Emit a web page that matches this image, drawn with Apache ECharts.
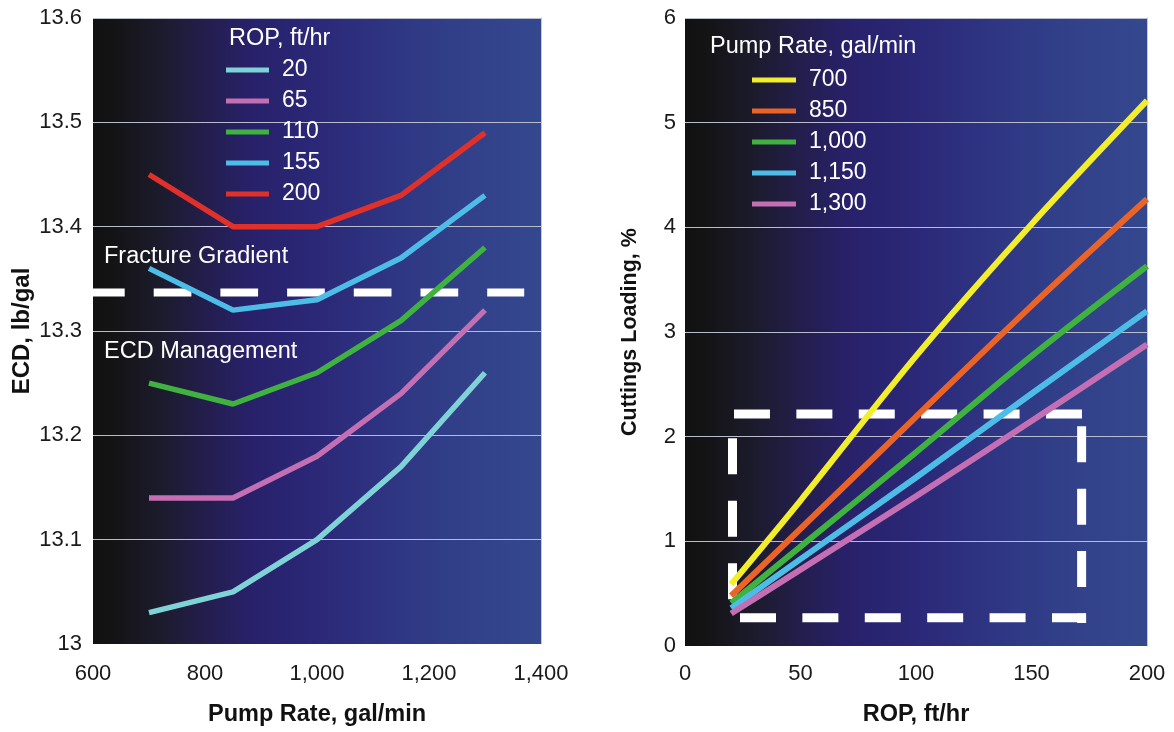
<!DOCTYPE html>
<html>
<head>
<meta charset="utf-8">
<script src="https://cdn.jsdelivr.net/npm/echarts@6/dist/echarts.min.js"></script>
<style>
  html, body { margin: 0; padding: 0; background: #fff; }
  #chart { width: 1174px; height: 732px; }
</style>
</head>
<body>
<div id="chart"></div>
<script>
// left panel: ECD vs pump rate, one line per ROP
var pumpRates = [700, 850, 1000, 1150, 1300];
var ropNames = ['20', '65', '110', '155', '200'];
var ecdRop20 = [13.03, 13.05, 13.10, 13.17, 13.26];
var ecdRop65 = [13.14, 13.14, 13.18, 13.24, 13.32];
var ecdRop110 = [13.25, 13.23, 13.26, 13.31, 13.38];
var ecdRop155 = [13.36, 13.32, 13.33, 13.37, 13.43];
var ecdRop200 = [13.45, 13.40, 13.40, 13.43, 13.49];
var fractureGradient = 13.337;
var fractureSpan = [600, 1370];

// right panel: cuttings loading vs ROP, one line per pump rate
var ropPoints = [20, 50, 100, 150, 200];
var rateNames = ['700', '850', '1,000', '1,150', '1,300'];
var load700 = [0.59, 1.39, 2.77, 4.03, 5.21];
var load850 = [0.48, 1.12, 2.19, 3.25, 4.27];
var load1000 = [0.41, 0.95, 1.85, 2.77, 3.63];
var load1150 = [0.36, 0.83, 1.61, 2.41, 3.20];
var load1300 = [0.31, 0.73, 1.43, 2.15, 2.88];

// dashed window on the right panel (ROP, %)
var boxTop = [[21.2, 2.216], [171.9, 2.216]];
var boxRight = [[171.7, 2.099], [171.7, 0.219]];
var boxBottom = [[23.8, 0.27], [173.6, 0.27]];
var boxLeft = [[20.56, 1.984], [20.56, 0.353]];

var ropColors = ['#7fd3d6', '#c46fb3', '#3fb23f', '#4dbde8', '#e0302a'];
var rateColors = ['#f2ee2e', '#ea6428', '#3fb23f', '#4dbde8', '#c46fb3'];

var myChart = echarts.init(document.getElementById('chart'));

var bgGrad = function () {
  return new echarts.graphic.LinearGradient(0, 0, 1, 0, [
    { offset: 0, color: '#111112' },
    { offset: 0.05, color: '#141416' },
    { offset: 0.15, color: '#1c1b2c' },
    { offset: 0.25, color: '#231e4c' },
    { offset: 0.35, color: '#28216a' },
    { offset: 0.5, color: '#2b2878' },
    { offset: 0.7, color: '#2f3884' },
    { offset: 0.85, color: '#32418a' },
    { offset: 1, color: '#34488e' }
  ]);
};

var zip = function (xs, ys) {
  return xs.map(function (x, i) { return [x, ys[i]]; });
};

var fmtComma = function (v) { return v.toLocaleString('en-US'); };

var axisText = { color: '#1a1a1a', fontSize: 22 };
var nameText = function (size) { return { color: '#111', fontSize: size, fontWeight: 'bold' }; };
var gridLine = { show: true, showMinLine: false, lineStyle: { color: '#b8bccc', width: 1 } };

var series = [];

// fracture gradient dashes
series.push({
  name: 'fracture', type: 'line', xAxisIndex: 0, yAxisIndex: 0,
  data: [[fractureSpan[0], fractureGradient], [fractureSpan[1], fractureGradient]],
  symbol: 'none', silent: true, z: 1,
  lineStyle: { color: '#fff', width: 8, type: [37.7, 29], dashOffset: 6, cap: 'butt' }
});

[ecdRop20, ecdRop65, ecdRop110, ecdRop155, ecdRop200].forEach(function (vals, i) {
  series.push({
    name: ropNames[i], type: 'line', xAxisIndex: 0, yAxisIndex: 0,
    data: zip(pumpRates, vals), symbol: 'none', color: ropColors[i], z: 3,
    lineStyle: { width: 5.5, color: ropColors[i] }
  });
});

[boxTop, boxRight, boxBottom, boxLeft].forEach(function (seg, i) {
  series.push({
    name: 'box' + i, type: 'line', xAxisIndex: 1, yAxisIndex: 2,
    data: seg, symbol: 'none', silent: true, z: 1,
    lineStyle: { color: '#fff', width: 9, type: [36, 26.4], cap: 'butt' }
  });
});

[load700, load850, load1000, load1150, load1300].forEach(function (vals, i) {
  series.push({
    name: rateNames[i], type: 'line', xAxisIndex: 1, yAxisIndex: 2,
    data: zip(ropPoints, vals), symbol: 'none', smooth: 0.3, color: rateColors[i], z: 3,
    lineStyle: { width: 6, color: rateColors[i] }
  });
});

var whiteText = { color: '#fff', fontSize: 23.5, fontWeight: 'normal' };
var legendText = { color: '#fff', fontSize: 23, lineHeight: 24, padding: [0, 0, 0, 8] };

var option = {
  animation: false,
  backgroundColor: '#fff',
  textStyle: { fontFamily: 'Liberation Sans, Arial, Helvetica, sans-serif' },
  title: [
    { text: 'ROP, ft/hr', left: 229, top: 27, padding: 0, textStyle: whiteText },
    { text: 'Pump Rate, gal/min', left: 710, top: 35, padding: 0, textStyle: whiteText },
    { text: 'Fracture Gradient', left: 104, top: 245, padding: 0, textStyle: whiteText },
    { text: 'ECD Management', left: 104, top: 340, padding: 0, textStyle: whiteText }
  ],
  legend: [
    {
      data: ropNames, orient: 'vertical', left: 226, top: 58, padding: 0,
      icon: 'rect', itemWidth: 43, itemHeight: 5, itemGap: 7, selectedMode: false,
      textStyle: legendText
    },
    {
      data: rateNames, orient: 'vertical', left: 752, top: 68, padding: 0,
      icon: 'rect', itemWidth: 44, itemHeight: 5, itemGap: 7, selectedMode: false,
      textStyle: legendText
    }
  ],
  grid: [
    { left: 93, top: 18, width: 448, height: 627, show: true, borderWidth: 0, backgroundColor: bgGrad() },
    { left: 685, top: 18, width: 462, height: 629, show: true, borderWidth: 0, backgroundColor: bgGrad() }
  ],
  xAxis: [
    {
      gridIndex: 0, type: 'value', min: 600, max: 1400, interval: 200,
      name: 'Pump Rate, gal/min', nameLocation: 'middle', nameGap: 59, nameTextStyle: nameText(23.5),
      axisLine: { show: false }, axisTick: { show: false }, splitLine: { show: false },
      axisLabel: Object.assign({ margin: 19, formatter: fmtComma }, axisText)
    },
    {
      gridIndex: 1, type: 'value', min: 0, max: 200, interval: 50,
      name: 'ROP, ft/hr', nameLocation: 'middle', nameGap: 57, nameTextStyle: nameText(23.5),
      axisLine: { show: false }, axisTick: { show: false }, splitLine: { show: false },
      axisLabel: Object.assign({ margin: 17 }, axisText)
    }
  ],
  yAxis: [
    {
      gridIndex: 0, type: 'value', min: 13, max: 13.6, interval: 0.1,
      name: 'ECD, lb/gal', nameLocation: 'middle', nameGap: 59, nameTextStyle: nameText(24),
      axisLine: { show: false }, axisTick: { show: false }, splitLine: gridLine,
      axisLabel: Object.assign({ margin: 11 }, axisText)
    },
    {
      gridIndex: 0, type: 'value', min: 13, max: 13.6, position: 'right',
      axisLine: { show: true, lineStyle: { color: '#c0c6dc', width: 1 } },
      axisTick: { show: false }, axisLabel: { show: false }, splitLine: { show: false }
    },
    {
      gridIndex: 1, type: 'value', min: 0, max: 6, interval: 1,
      name: 'Cuttings Loading, %', nameLocation: 'middle', nameGap: 44, nameTextStyle: nameText(21.5),
      axisLine: { show: false }, axisTick: { show: false }, splitLine: gridLine,
      axisLabel: Object.assign({ margin: 9 }, axisText)
    },
    {
      gridIndex: 1, type: 'value', min: 0, max: 6, position: 'right',
      axisLine: { show: true, lineStyle: { color: '#c0c6dc', width: 1 } },
      axisTick: { show: false }, axisLabel: { show: false }, splitLine: { show: false }
    }
  ],
  series: series
};

myChart.setOption(option);
</script>
</body>
</html>
